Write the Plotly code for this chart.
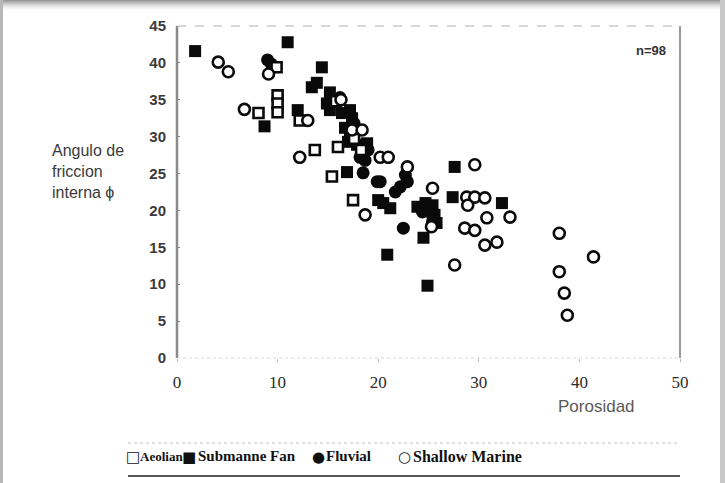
import plotly.graph_objects as go

# ---- data ----
aeolian_x = [9.9, 10.0, 10.0, 10.0, 8.1, 12.2, 13.7, 15.4, 16.0, 17.5, 17.6, 18.3, 15.8]
aeolian_y = [39.4, 35.6, 34.5, 33.3, 33.2, 32.2, 28.2, 24.6, 28.6, 21.4, 29.7, 28.2, 34.8]

subfan_x = [1.8, 11.0, 14.4, 8.7, 12.0, 13.4, 13.9, 15.2, 14.9, 15.2, 16.4, 17.2, 17.4,
            16.7, 17.0, 17.9, 18.9, 17.2, 16.9, 20.0, 21.2, 20.5, 20.9, 24.9, 23.9, 24.7,
            25.4, 25.6, 25.8, 24.5, 27.6, 27.4, 32.3]
subfan_y = [41.6, 42.8, 39.4, 31.4, 33.6, 36.7, 37.3, 36.0, 34.5, 33.6, 33.2, 33.6, 32.5,
            31.2, 29.3, 28.9, 29.1, 30.6, 25.2, 21.4, 20.3, 21.0, 14.0, 9.8, 20.5, 21.0,
            20.7, 19.4, 18.3, 16.3, 25.9, 21.8, 21.0]

fluvial_x = [9.0, 9.4, 16.2, 17.6, 18.2, 18.7, 18.5, 19.9, 20.2, 22.7, 22.9, 22.2, 21.7,
             22.5, 24.4, 25.1, 25.4, 19.0]
fluvial_y = [40.4, 39.8, 35.3, 31.8, 27.2, 26.8, 25.1, 23.9, 23.9, 24.8, 23.9, 23.2, 22.5,
             17.6, 19.8, 19.8, 18.5, 28.2]

marine_x = [4.1, 5.1, 6.7, 9.1, 13.0, 12.2, 16.3, 17.4, 18.4, 20.2, 21.0, 18.7, 22.9, 25.4,
            25.3, 29.6, 28.8, 29.6, 28.9, 30.6, 30.8, 33.1, 28.6, 29.6, 30.6, 31.8, 27.6,
            38.0, 41.4, 38.0, 38.5, 38.8]
marine_y = [40.1, 38.8, 33.7, 38.5, 32.2, 27.2, 35.0, 30.9, 30.9, 27.2, 27.2, 19.4, 25.9, 23.0,
            17.8, 26.2, 21.8, 21.8, 20.7, 21.7, 19.0, 19.1, 17.6, 17.3, 15.3, 15.7, 12.6,
            16.9, 13.7, 11.7, 8.8, 5.8]

x_ticks = [0, 10, 20, 30, 40, 50]
y_ticks = [0, 5, 10, 15, 20, 25, 30, 35, 40, 45]

legend_symbols = ["\u25a1", "\u25a0", "\u25cf", "\u25cb"]
legend_labels = ["Aeolian", "Submanne Fan", "Fluvial", "Shallow Marine"]

# ---- layout geometry (pixels) ----
W, H = 725, 483
L, R, T, B = 177, 680, 26, 358


def px(xp):
    return (xp - L) / (R - L)


def py(yp):
    return (B - yp) / (B - T)


fig = go.Figure()
fig.add_trace(go.Scatter(x=subfan_x, y=subfan_y, mode="markers", name="Submanne Fan",
                         marker=dict(symbol="square", size=12, color="#0a0a0a")))
fig.add_trace(go.Scatter(x=fluvial_x, y=fluvial_y, mode="markers", name="Fluvial",
                         marker=dict(symbol="circle", size=13, color="#0a0a0a")))
fig.add_trace(go.Scatter(x=aeolian_x, y=aeolian_y, mode="markers", name="Aeolian",
                         marker=dict(symbol="square", size=10, color="white",
                                     line=dict(color="#0a0a0a", width=2.6))))
fig.add_trace(go.Scatter(x=marine_x, y=marine_y, mode="markers", name="Shallow Marine",
                         marker=dict(symbol="circle", size=11, color="white",
                                     line=dict(color="#0a0a0a", width=2.6))))

shapes = []
# plot frame
shapes.append(dict(type="line", xref="paper", yref="paper", x0=0, x1=0, y0=0, y1=1,
                   line=dict(color="#8a8a8a", width=2.5)))
shapes.append(dict(type="line", xref="paper", yref="paper", x0=0, x1=1, y0=1, y1=1,
                   line=dict(color="#b0b0b0", width=1.2, dash="dash")))
shapes.append(dict(type="line", xref="paper", yref="paper", x0=1, x1=1, y0=0, y1=1,
                   line=dict(color="#7a7a7a", width=1.5)))
shapes.append(dict(type="line", xref="paper", yref="paper", x0=0, x1=1, y0=0, y1=0,
                   line=dict(color="#d8d8d8", width=1, dash="dot")))
# legend box lines
shapes.append(dict(type="line", xref="paper", yref="paper", x0=px(128), x1=px(680),
                   y0=py(443), y1=py(443), line=dict(color="#c4c4c4", width=1, dash="dot")))
shapes.append(dict(type="line", xref="paper", yref="paper", x0=px(128), x1=px(680),
                   y0=py(476), y1=py(476), line=dict(color="#555555", width=1.8)))
# outer screenshot border (gray shadow at top and sides)
top_grays = ["#9a9a9a", "#a8a8a8", "#b6b6b6", "#c4c4c4", "#d2d2d2", "#dedede", "#e8e8e8",
             "#f0f0f0", "#f6f6f6", "#fbfbfb"]
for i, c in enumerate(top_grays):
    shapes.append(dict(type="rect", xref="paper", yref="paper", x0=px(0), x1=px(W),
                       y0=py(i + 1), y1=py(i), line=dict(width=0), fillcolor=c, layer="below"))
shapes.append(dict(type="rect", xref="paper", yref="paper", x0=px(0), x1=px(3),
                   y0=py(H), y1=py(0), line=dict(width=0), fillcolor="#b8b8b8", layer="below"))
shapes.append(dict(type="rect", xref="paper", yref="paper", x0=px(720), x1=px(W),
                   y0=py(H), y1=py(0), line=dict(width=0), fillcolor="#c8c8c8", layer="below"))

annotations = [
    dict(text="Angulo de<br>friccion<br>interna \u03d5", xref="paper", yref="paper",
         x=px(50), y=py(171), xanchor="left", yanchor="middle", align="left", showarrow=False,
         font=dict(family="Liberation Sans", size=16, color="#3a3a3a")),
    dict(text="Porosidad", xref="paper", yref="paper", x=px(596), y=py(406),
         xanchor="center", yanchor="middle", showarrow=False,
         font=dict(family="Liberation Sans", size=17, color="#5a5a5a")),
    dict(text="<b>n=98</b>", xref="paper", yref="paper", x=px(668), y=py(50),
         xanchor="right", yanchor="middle", showarrow=False,
         font=dict(family="Liberation Sans", size=13, color="#333333")),
]
sym_x = [133, 189, 318, 404]
txt_x = [138, 196, 324, 411]
txt_size = [13, 15, 15, 16]
for sx, tx, ts, sym, lab in zip(sym_x, txt_x, txt_size, legend_symbols, legend_labels):
    annotations.append(dict(text="<b>" + sym + "</b>", xref="paper", yref="paper",
                            x=px(sx), y=py(457), xanchor="center", yanchor="middle",
                            showarrow=False,
                            font=dict(family="DejaVu Sans", size=15, color="#111111")))
    annotations.append(dict(text="<b>" + lab + "</b>", xref="paper", yref="paper",
                            x=px(tx), y=py(456), xanchor="left", yanchor="middle",
                            showarrow=False,
                            font=dict(family="Liberation Serif", size=ts, color="#111111")))

fig.update_layout(
    width=W, height=H,
    margin=dict(l=L, r=W - R, t=T, b=H - B, autoexpand=False),
    paper_bgcolor="white", plot_bgcolor="white",
    showlegend=False,
    shapes=shapes, annotations=annotations,
    xaxis=dict(range=[0, 50], tickvals=x_ticks, ticktext=[str(v) for v in x_ticks],
               showgrid=False, zeroline=False, showline=False,
               ticks="outside", ticklen=3, tickcolor="#bbbbbb", ticklabelstandoff=6,
               tickfont=dict(family="Liberation Serif", size=17, color="#2a2a2a")),
    yaxis=dict(range=[0, 45], tickvals=y_ticks, ticktext=["<b>%d</b>" % v for v in y_ticks],
               showgrid=False, zeroline=False, showline=False,
               ticks="inside", ticklen=3, tickcolor="#888888", ticklabelstandoff=10,
               tickfont=dict(family="Liberation Sans", size=15, color="#3a3a3a")),
)

fig.write_html("out.html")
